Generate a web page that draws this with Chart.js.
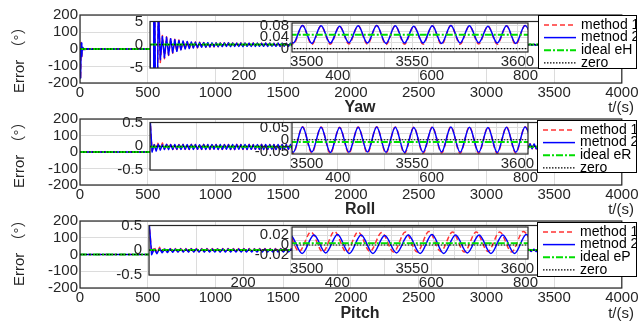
<!DOCTYPE html>
<html><head><meta charset="utf-8">
<script src="https://cdn.jsdelivr.net/npm/chart.js@4.4.1/dist/chart.umd.min.js"></script>
<style>
html,body{margin:0;padding:0;background:#fff;}
#wrap{position:relative;width:641px;height:323px;overflow:hidden;background:#fff;}
canvas{position:absolute;}
</style></head><body><div id="wrap"></div>
<script>
// ---------------- DATA ----------------
const panelNames = ['Yaw', 'Roll', 'Pitch'];
const seriesNames = ['method 1', 'metnod 2'];
const idealNames = ['ideal eH', 'ideal eR', 'ideal eP'];
const zeroName = 'zero';

// tick labels
const mainXTickLabels = [0, 500, 1000, 1500, 2000, 2500, 3000, 3500, 4000];
const mainYTickLabels = [-200, -100, 0, 100, 200];
const midXTickLabels = [200, 400, 600, 800];
const yawMidYTickLabels = [-5, 0, 5];
const rpMidYTickLabels = [-0.5, 0, 0.5];
const innerXTickLabels = [3500, 3550, 3600];
const yawInYTickLabels = [0, 0.04, 0.08];
const rollInYTickLabels = [-0.05, 0, 0.05];
const pitchInYTickLabels = [-0.02, 0, 0.02];

// axis ranges [min, max, step]
const mainXRange = [0, 4000, 500];
const mainYRange = [-200, 200, 100];
const midXRange = [0, 850, 100];
const yawMidYRange = [-5, 5, 5];
const rpMidYRange = [-0.5, 0.5, 0.5];
const innerXRange = [3493, 3605, 10];
const yawInYRange = [-0.012, 0.089, 0.02];
const rollInYRange = [-0.058, 0.07, 0.025];
const pitchInYRange = [-0.028, 0.036, 0.01];

// sampling of the read-off extremes (time in s)
const midStepYR = 4.4;      // yaw / roll: one value per half period
const midStepP = 5.6;       // pitch
const inStartYR = 3489.2, inStepYR = 4.4;
const inStartP2 = 3486.6, inStartP1 = 3485.2, inStepP = 5.6;
const lineSpan = [0, 3610];

// constant reference lines
const yawIdeal = 0.048, rollIdeal = -0.009, pitchIdeal = 0.0035, zeroValue = 0;

// Yaw, t = 0 .. 853.6 every 4.4 s
const yawMid2 = [
0,-170,35,-42,9,-3.2,1.8,-2.8,1.6,-2.2,
1.3,-1.7,1.1,-1.4,0.9,-1.1,0.8,-0.9,0.7,-0.8,
0.6,-0.7,0.55,-0.6,0.5,-0.55,0.45,-0.5,0.45,-0.45,
0.4,-0.42,0.38,-0.4,0.36,-0.38,0.38,-0.36,0.4,-0.38,
0.36,-0.35,0.33,-0.36,0.37,-0.38,0.35,-0.33,0.32,-0.35,
0.36,-0.37,0.34,-0.32,0.31,-0.34,0.35,-0.36,0.33,-0.31,
0.3,-0.33,0.34,-0.35,0.32,-0.3,0.29,-0.32,0.33,-0.33,
0.31,-0.29,0.28,-0.3,0.31,-0.32,0.3,-0.28,0.27,-0.29,
0.3,-0.31,0.29,-0.27,0.26,-0.28,0.29,-0.3,0.28,-0.26,
0.25,-0.27,0.28,-0.29,0.27,-0.25,0.24,-0.26,0.27,-0.27,
0.25,-0.23,0.23,-0.25,0.26,-0.26,0.24,-0.22,0.22,-0.24,
0.25,-0.25,0.23,-0.21,0.21,-0.23,0.24,-0.24,0.22,-0.2,
0.2,-0.22,0.23,-0.23,0.21,-0.19,0.19,-0.21,0.22,-0.22,
0.2,-0.18,0.18,-0.2,0.21,-0.21,0.19,-0.17,0.17,-0.19,
0.2,-0.2,0.18,-0.16,0.16,-0.18,0.19,-0.19,0.17,-0.15,
0.15,-0.17,0.18,-0.18,0.16,-0.14,0.14,-0.16,0.17,-0.17,
0.15,-0.13,0.13,-0.15,0.16,-0.16,0.14,-0.12,0.12,-0.14,
0.15,-0.15,0.13,-0.12,0.12,-0.13,0.14,-0.14,0.12,-0.11,
0.11,-0.12,0.13,-0.13,0.11,-0.1,0.1,-0.11,0.12,-0.12,
0.1,-0.1,0.1,-0.11,0.11];
const yawMid1 = [
0,-176,38,-46,10,-3.8,2.0,-3.0,1.7,-2.3,
1.4,-1.8,1.2,-1.5,1.0,-1.2,0.85,-0.95,0.75,-0.85,
0.65,-0.75,0.6,-0.65,0.55,-0.6,0.5,-0.55,0.47,-0.48,
0.42,-0.44,0.4,-0.42,0.38,-0.4,0.4,-0.38,0.42,-0.4,
0.38,-0.37,0.35,-0.38,0.39,-0.4,0.37,-0.35,0.34,-0.37,
0.38,-0.39,0.36,-0.34,0.33,-0.36,0.37,-0.38,0.35,-0.33,
0.32,-0.35,0.36,-0.37,0.34,-0.32,0.31,-0.34,0.35,-0.35,
0.33,-0.31,0.3,-0.32,0.33,-0.34,0.32,-0.3,0.29,-0.31,
0.32,-0.33,0.31,-0.29,0.28,-0.3,0.31,-0.32,0.3,-0.28,
0.27,-0.29,0.3,-0.31,0.29,-0.27,0.26,-0.28,0.29,-0.29,
0.27,-0.25,0.25,-0.27,0.28,-0.28,0.26,-0.24,0.24,-0.26,
0.27,-0.27,0.25,-0.23,0.23,-0.25,0.26,-0.26,0.24,-0.22,
0.22,-0.24,0.25,-0.25,0.23,-0.21,0.21,-0.23,0.24,-0.24,
0.22,-0.2,0.2,-0.22,0.23,-0.23,0.21,-0.19,0.19,-0.21,
0.22,-0.22,0.2,-0.18,0.18,-0.2,0.21,-0.21,0.19,-0.17,
0.17,-0.19,0.2,-0.2,0.18,-0.16,0.16,-0.18,0.19,-0.19,
0.17,-0.15,0.15,-0.17,0.18,-0.18,0.16,-0.14,0.14,-0.16,
0.17,-0.17,0.15,-0.14,0.14,-0.15,0.16,-0.16,0.14,-0.13,
0.13,-0.14,0.15,-0.15,0.13,-0.12,0.12,-0.13,0.14,-0.14,
0.12,-0.12,0.12,-0.13,0.13];
// Yaw, t = 3489.2 .. 3608 every 4.4 s
const yawIn2 = [0.079,0.019,0.08,0.018,0.079,0.019,0.078,0.02,0.079,0.019,0.08,0.018,0.079,0.019,
0.078,0.019,0.079,0.018,0.08,0.019,0.079,0.02,0.078,0.019,0.079,0.018,0.08,0.019];
const yawIn1 = [0.079,0.015,0.08,0.014,0.079,0.015,0.078,0.016,0.079,0.015,0.08,0.014,0.079,0.015,
0.078,0.015,0.079,0.014,0.08,0.015,0.079,0.016,0.078,0.015,0.079,0.014,0.08,0.015];

// Roll, t = 0 .. 853.6 every 4.4 s
const rollMid2 = [
0.62,-0.12,0.03,-0.1,0.04,-0.08,0.03,-0.07,0.04,-0.07,
0.035,-0.066,0.038,-0.064,0.033,-0.067,0.036,-0.063,0.034,-0.065,
0.037,-0.066,0.035,-0.062,0.032,-0.065,0.036,-0.067,0.038,-0.064,
0.034,-0.063,0.035,-0.066,0.037,-0.065,0.033,-0.062,0.035,-0.066,
0.038,-0.067,0.036,-0.064,0.034,-0.063,0.036,-0.066,0.037,-0.065,
0.033,-0.062,0.034,-0.065,0.037,-0.067,0.038,-0.064,0.035,-0.063,
0.034,-0.066,0.037,-0.065,0.036,-0.062,0.033,-0.064,0.036,-0.067,
0.038,-0.065,0.035,-0.063,0.034,-0.066,0.036,-0.064,0.037,-0.062,
0.035,-0.064,0.036,-0.067,0.038,-0.065,0.034,-0.062,0.033,-0.065,
0.036,-0.066,0.037,-0.064,0.035,-0.063,0.034,-0.066,0.038,-0.067,
0.04,-0.06,0.042,-0.058,0.039,-0.061,0.041,-0.059,0.043,-0.06,
0.042,-0.058,0.04,-0.061,0.043,-0.059,0.041,-0.06,0.044,-0.057,
0.043,-0.058,0.044,-0.057,0.042,-0.059,0.045,-0.056,0.043,-0.058,
0.044,-0.057,0.046,-0.055,0.043,-0.056,0.045,-0.057,0.047,-0.055,
0.045,-0.056,0.046,-0.054,0.047,-0.055,0.045,-0.056,0.048,-0.054,
0.046,-0.055,0.047,-0.053,0.048,-0.054,0.046,-0.055,0.049,-0.053,
0.047,-0.054,0.048,-0.053,0.049,-0.052,0.047,-0.054,0.05,-0.052,
0.048,-0.053,0.049,-0.052,0.05,-0.051,0.048,-0.053,0.05,-0.051,
0.049,-0.052,0.05,-0.051,0.051,-0.05,0.049,-0.052,0.05,-0.051,
0.05,-0.051,0.051,-0.05,0.05];
const rollMid1 = [
0.6,-0.09,0.05,-0.07,0.08,-0.06,0.07,-0.06,0.06,-0.065,
0.038,-0.069,0.041,-0.067,0.036,-0.07,0.039,-0.066,0.037,-0.068,
0.04,-0.069,0.038,-0.065,0.035,-0.068,0.039,-0.07,0.041,-0.067,
0.037,-0.066,0.038,-0.069,0.04,-0.068,0.036,-0.065,0.038,-0.069,
0.041,-0.07,0.039,-0.067,0.037,-0.066,0.039,-0.069,0.04,-0.068,
0.036,-0.065,0.037,-0.068,0.04,-0.07,0.041,-0.067,0.038,-0.066,
0.037,-0.069,0.04,-0.068,0.039,-0.065,0.036,-0.067,0.039,-0.07,
0.041,-0.068,0.038,-0.066,0.037,-0.069,0.039,-0.067,0.04,-0.065,
0.038,-0.067,0.039,-0.07,0.041,-0.068,0.037,-0.065,0.036,-0.068,
0.039,-0.069,0.04,-0.067,0.038,-0.066,0.037,-0.069,0.041,-0.07,
0.043,-0.063,0.045,-0.061,0.042,-0.064,0.044,-0.062,0.046,-0.063,
0.045,-0.061,0.043,-0.064,0.046,-0.062,0.044,-0.063,0.047,-0.06,
0.046,-0.061,0.047,-0.06,0.045,-0.062,0.048,-0.059,0.046,-0.061,
0.047,-0.06,0.049,-0.058,0.046,-0.059,0.048,-0.06,0.05,-0.058,
0.048,-0.059,0.049,-0.057,0.05,-0.058,0.048,-0.059,0.051,-0.057,
0.049,-0.058,0.05,-0.056,0.051,-0.057,0.049,-0.058,0.052,-0.056,
0.05,-0.057,0.051,-0.056,0.052,-0.055,0.05,-0.057,0.053,-0.055,
0.051,-0.056,0.052,-0.055,0.053,-0.054,0.051,-0.056,0.053,-0.054,
0.052,-0.055,0.053,-0.054,0.054,-0.053,0.052,-0.055,0.053,-0.054,
0.053,-0.054,0.054,-0.053,0.053];
// Roll, t = 3489.2 .. 3608 every 4.4 s
const rollIn2 = [0.051,-0.051,0.052,-0.05,0.051,-0.052,0.05,-0.051,0.051,-0.05,0.052,-0.051,0.051,-0.052,
0.05,-0.051,0.051,-0.05,0.052,-0.051,0.051,-0.051,0.05,-0.052,0.051,-0.051,0.052,-0.05];
const rollIn1 = [0.052,-0.055,0.053,-0.054,0.052,-0.056,0.051,-0.055,0.052,-0.054,0.053,-0.055,0.052,-0.056,
0.051,-0.055,0.052,-0.054,0.053,-0.055,0.052,-0.055,0.051,-0.056,0.052,-0.055,0.053,-0.054];

// Pitch, t = 0 .. 851.2 every 5.6 s
const pitchMid2 = [
0.6,-0.09,0.02,-0.07,0.03,-0.05,0.025,-0.045,0.028,-0.04,
0.026,-0.036,0.027,-0.034,0.025,-0.035,0.028,-0.033,0.026,-0.036,
0.025,-0.034,0.027,-0.035,0.026,-0.033,0.024,-0.034,0.027,-0.036,
0.028,-0.035,0.026,-0.033,0.025,-0.034,0.027,-0.036,0.026,-0.034,
0.024,-0.033,0.026,-0.035,0.028,-0.034,0.025,-0.033,0.026,-0.035,
0.027,-0.034,0.025,-0.032,0.024,-0.034,0.026,-0.035,0.027,-0.033,
0.025,-0.032,0.023,-0.033,0.025,-0.034,0.026,-0.032,0.024,-0.031,
0.023,-0.032,0.025,-0.033,0.024,-0.031,0.022,-0.032,0.024,-0.033,
0.025,-0.031,0.023,-0.03,0.022,-0.031,0.024,-0.032,0.023,-0.03,
0.022,-0.029,0.023,-0.031,0.024,-0.03,0.022,-0.029,0.021,-0.03,
0.023,-0.031,0.022,-0.029,0.021,-0.028,0.022,-0.03,0.023,-0.029,
0.021,-0.028,0.02,-0.029,0.022,-0.03,0.021,-0.028,0.02,-0.027,
0.021,-0.029,0.022,-0.028,0.02,-0.027,0.019,-0.028,0.021,-0.029,
0.02,-0.027,0.019,-0.026,0.021,-0.028,0.02,-0.027,0.019,-0.026,
0.02,-0.027,0.021,-0.026,0.019,-0.025,0.02,-0.027,0.021,-0.026,
0.02,-0.025,0.019,-0.026];
const pitchMid1 = [
0.58,-0.06,0.07,-0.05,0.06,-0.04,0.05,-0.035,0.045,-0.03,
0.033,-0.03,0.034,-0.028,0.032,-0.029,0.035,-0.027,0.033,-0.03,
0.032,-0.028,0.034,-0.029,0.033,-0.027,0.031,-0.028,0.034,-0.03,
0.035,-0.029,0.033,-0.027,0.032,-0.028,0.034,-0.03,0.033,-0.028,
0.031,-0.027,0.033,-0.029,0.035,-0.028,0.032,-0.027,0.033,-0.029,
0.034,-0.028,0.032,-0.026,0.031,-0.028,0.033,-0.029,0.034,-0.027,
0.032,-0.026,0.03,-0.027,0.032,-0.028,0.033,-0.026,0.031,-0.025,
0.03,-0.026,0.032,-0.027,0.031,-0.025,0.029,-0.026,0.031,-0.027,
0.032,-0.025,0.03,-0.024,0.029,-0.025,0.031,-0.026,0.03,-0.024,
0.029,-0.023,0.03,-0.025,0.031,-0.024,0.029,-0.023,0.028,-0.024,
0.03,-0.025,0.029,-0.023,0.028,-0.022,0.029,-0.024,0.03,-0.023,
0.028,-0.022,0.027,-0.023,0.029,-0.024,0.028,-0.022,0.027,-0.021,
0.028,-0.023,0.029,-0.022,0.027,-0.021,0.026,-0.022,0.028,-0.023,
0.027,-0.021,0.026,-0.02,0.028,-0.022,0.027,-0.021,0.026,-0.02,
0.027,-0.021,0.028,-0.02,0.026,-0.019,0.027,-0.021,0.028,-0.02,
0.027,-0.019,0.026,-0.02];
// Pitch inner: method 2 from t = 3486.6, method 1 from t = 3485.2, every 5.6 s
const pitchIn2 = [-0.017,0.02,-0.017,0.02,-0.016,0.021,-0.017,0.02,-0.017,0.019,-0.016,0.02,
-0.017,0.021,-0.017,0.02,-0.016,0.02,-0.017,0.02,-0.017,0.021,-0.016];
const pitchIn1 = [-0.014,0.026,-0.013,0.026,-0.014,0.027,-0.014,0.026,-0.013,0.025,-0.014,0.026,
-0.014,0.027,-0.013,0.026,-0.014,0.026,-0.013,0.026,-0.014,0.027,-0.013];

// ---------------- STYLE / LAYOUT ----------------
const FONT = "'Liberation Sans', Arial, Helvetica, sans-serif";
const FONT_CJK = "'Liberation Sans', Arial, 'Noto Sans CJK SC', sans-serif";
const TXT = '#262626';
const GRID = '#dcdcdc';
const STY = [
  {color:'#ff3333', width:1.5, dash:[5,3]},
  {color:'#0000ff', width:1.5, dash:[]},
  {color:'#00dd00', width:2, dash:[7,2,2,2]},
  {color:'#000000', width:1.2, dash:[1.5,1.5]}
];
const GEO = [
  {main:[80,15,635,83], mid:[150,19,549,68], inn:[292,23,528,52], leg:[538,15,637,69], errB:93, nameY:108, cv:[0,0,641,118]},
  {main:[80,119,635,185], mid:[150,120,549,170], inn:[292,122,528,154], leg:[537,120,637,173], errB:188, nameY:210, cv:[0,100,641,122]},
  {main:[80,221,635,288], mid:[149,222.5,549,275], inn:[292,227,528,259], leg:[537,222,637,277], errB:286, nameY:314, cv:[0,203,641,120]}
];

Chart.defaults.font.family = FONT;
const wrap = document.getElementById('wrap');

function pts(t0, dt, vals){ return vals.map((v,i)=>({x:t0+i*dt, y:v})); }
function flat(v){ return [{x:lineSpan[0], y:v},{x:lineSpan[1], y:v}]; }
function labeler(list){
  return function(v){
    const f = list.find(l => Math.abs(l - v) < 1e-7);
    return f === undefined ? '' : String(f);
  };
}
function mkCanvas(r){
  const c = document.createElement('canvas');
  c.width = r[2]; c.height = r[3];
  c.style.left = r[0]+'px'; c.style.top = r[1]+'px';
  c.style.width = r[2]+'px'; c.style.height = r[3]+'px';
  wrap.appendChild(c); return c;
}
function datasets(d1, d2, idealVal, idealName, smooth){
  const m = smooth ? 'monotone' : 'default';
  return [
    {label:seriesNames[0], data:d1, borderColor:STY[0].color, borderWidth:STY[0].width, borderDash:STY[0].dash, order:3, cubicInterpolationMode:m},
    {label:seriesNames[1], data:d2, borderColor:STY[1].color, borderWidth:STY[1].width, borderDash:STY[1].dash, order:2, cubicInterpolationMode:m},
    {label:idealName, data:flat(idealVal), borderColor:STY[2].color, borderWidth:STY[2].width, borderDash:STY[2].dash, order:1},
    {label:zeroName, data:flat(zeroValue), borderColor:STY[3].color, borderWidth:STY[3].width, borderDash:STY[3].dash, order:0}
  ];
}
function axis(range, labels, pad, fitFn){
  return {
    type:'linear', min:range[0], max:range[1], afterFit:fitFn,
    border:{display:false},
    grid:{color:GRID, lineWidth:1, drawTicks:false},
    ticks:{stepSize:range[2], includeBounds:false, autoSkip:false, maxRotation:0, minRotation:0,
      padding:pad, color:TXT, font:{family:FONT, size:15, lineHeight:1}, callback:labeler(labels)}
  };
}
function makeChart(cv, area, xr, xl, xpad, yr, yl, ypad, sets, deco){
  const c = mkCanvas(cv);
  const xH = cv[1]+cv[3]-area[3], yW = area[0]-cv[0];
  return new Chart(c, {
    type:'line',
    data:{datasets:sets},
    options:{
      responsive:false, animation:false, devicePixelRatio:1, events:[],
      layout:{padding:{left:0, top:area[1]-cv[1], right:cv[0]+cv[2]-area[2], bottom:0}},
      plugins:{legend:{display:false}, tooltip:{enabled:false}, title:{display:false}},
      elements:{point:{radius:0}, line:{borderCapStyle:'butt', borderJoinStyle:'round'}},
      scales:{
        x:axis(xr, xl, xpad, s=>{s.height = xH;}),
        y:axis(yr, yl, ypad, s=>{s.width = yW;})
      }
    },
    plugins:[{
      id:'deco',
      beforeDraw(ch){
        if (deco.fill){ const a = ch.chartArea; const x = ch.ctx; x.save(); x.fillStyle='#fff'; x.fillRect(a.left, a.top, a.right-a.left, a.bottom-a.top); x.restore(); }
      },
      afterDatasetsDraw(ch){
        const a = ch.chartArea, x = ch.ctx;
        x.save(); x.strokeStyle = '#262626'; x.lineWidth = 1.2; x.setLineDash([]);
        x.strokeRect(a.left, a.top, a.right-a.left, a.bottom-a.top); x.restore();
      },
      afterDraw(ch){ if (deco.after) deco.after(ch.ctx, cv); }
    }]
  });
}
function drawLegend(ctx, cv, box, labels){
  ctx.save();
  ctx.translate(-cv[0], -cv[1]);
  const w = box[2]-box[0], h = box[3]-box[1];
  ctx.fillStyle = '#fff'; ctx.fillRect(box[0], box[1], w, h);
  ctx.beginPath(); ctx.rect(box[0], box[1], w, h); ctx.clip();
  labels.forEach((lab, i) => {
    const y = box[1] + 10 + 12.6*i;
    ctx.strokeStyle = STY[i].color; ctx.lineWidth = STY[i].width; ctx.setLineDash(STY[i].dash);
    ctx.beginPath(); ctx.moveTo(box[0]+6, y); ctx.lineTo(box[0]+38, y); ctx.stroke();
    ctx.fillStyle = '#000'; ctx.font = '14px ' + FONT; ctx.textAlign = 'left'; ctx.textBaseline = 'middle';
    ctx.fillText(lab, box[0]+43, y);
  });
  ctx.setLineDash([]); ctx.strokeStyle = '#000'; ctx.lineWidth = 1;
  ctx.strokeRect(box[0]+0.5, box[1]+0.5, w-1, h-1);
  ctx.restore();
}
function drawTexts(ctx, cv, g, name){
  ctx.save();
  ctx.translate(-cv[0], -cv[1]);
  ctx.fillStyle = TXT;
  ctx.save(); ctx.translate(23.5, g.errB); ctx.rotate(-Math.PI/2);
  ctx.font = '15px ' + FONT_CJK; ctx.textAlign = 'left'; ctx.textBaseline = 'alphabetic';
  ctx.fillText('Error （°）', 0, 0); ctx.restore();
  ctx.textBaseline = 'middle';
  ctx.font = 'bold 16px ' + FONT; ctx.textAlign = 'center'; ctx.fillText(name, 360, g.nameY);
  ctx.font = '15px ' + FONT; ctx.textAlign = 'right'; ctx.fillText('t/(s)', 634, g.nameY);
  ctx.restore();
}

const PANELS = [
  {mid1:yawMid1, mid2:yawMid2, midDt:midStepYR, in1:yawIn1, in2:yawIn2, in1T0:inStartYR, in2T0:inStartYR, inDt:inStepYR,
   ideal:yawIdeal, midYR:yawMidYRange, midYL:yawMidYTickLabels, inYR:yawInYRange, inYL:yawInYTickLabels},
  {mid1:rollMid1, mid2:rollMid2, midDt:midStepYR, in1:rollIn1, in2:rollIn2, in1T0:inStartYR, in2T0:inStartYR, inDt:inStepYR,
   ideal:rollIdeal, midYR:rpMidYRange, midYL:rpMidYTickLabels, inYR:rollInYRange, inYL:rollInYTickLabels},
  {mid1:pitchMid1, mid2:pitchMid2, midDt:midStepP, in1:pitchIn1, in2:pitchIn2, in1T0:inStartP1, in2T0:inStartP2, inDt:inStepP,
   ideal:pitchIdeal, midYR:rpMidYRange, midYL:rpMidYTickLabels, inYR:pitchInYRange, inYL:pitchInYTickLabels}
];

PANELS.forEach((P, k) => {
  const g = GEO[k];
  const legendLabels = [seriesNames[0], seriesNames[1], idealNames[k], zeroName];
  // main axes
  const main1 = pts(0, P.midDt, P.mid1).concat(pts(P.in1T0, P.inDt, P.in1));
  const main2 = pts(0, P.midDt, P.mid2).concat(pts(P.in2T0, P.inDt, P.in2));
  makeChart(g.cv, g.main, mainXRange, mainXTickLabels, 2.5, mainYRange, mainYTickLabels, 2,
    datasets(main1, main2, P.ideal, idealNames[k], false),
    {fill:false, after:(ctx, cv)=>drawTexts(ctx, cv, g, panelNames[k])});
  // first inset
  const midCv = [100, g.mid[1]-12, 460, g.mid[3]-g.mid[1]+32];
  makeChart(midCv, g.mid, midXRange, midXTickLabels, 0.5, P.midYR, P.midYL, 7,
    datasets(pts(0, P.midDt, P.mid1), pts(0, P.midDt, P.mid2), P.ideal, idealNames[k], false),
    {fill:true});
  // second inset + legend
  const top = Math.min(g.inn[1], g.leg[1]) - 8;
  const bot = Math.max(g.inn[3] + 22, g.leg[3] + 4);
  const innCv = [240, top, 401, bot-top];
  makeChart(innCv, g.inn, innerXRange, innerXTickLabels, 2, P.inYR, P.inYL, 3,
    datasets(pts(P.in1T0, P.inDt, P.in1), pts(P.in2T0, P.inDt, P.in2), P.ideal, idealNames[k], true),
    {fill:true, after:(ctx, cv)=>drawLegend(ctx, cv, g.leg, legendLabels)});
});
</script>
</body></html>
